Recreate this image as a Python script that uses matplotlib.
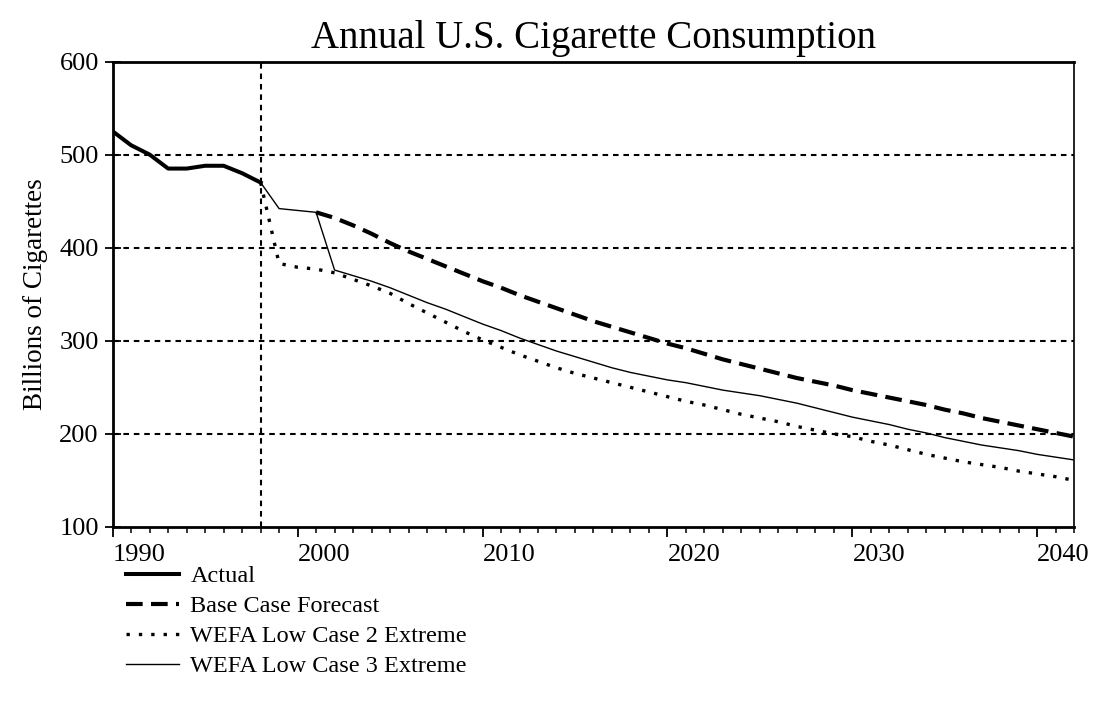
import matplotlib
matplotlib.use("Agg")
import matplotlib.pyplot as plt
from matplotlib.ticker import MultipleLocator

plt.rcParams["font.family"] = ["Liberation Serif", "DejaVu Serif"]
plt.rcParams["lines.scale_dashes"] = False

# Historical consumption, billions of cigarettes
actual_years = [1990, 1991, 1992, 1993, 1994, 1995, 1996, 1997, 1998]
actual_vals = [525, 510, 500, 485, 485, 488, 488, 480, 470]

# Base case forecast
base_years = list(range(2001, 2043))
base_vals = [438, 432, 424, 415, 405, 396, 388, 380, 372, 364,
             357, 349, 342, 335, 328, 321, 315, 309, 303, 297,
             292, 286, 280, 275, 270, 265, 260, 256, 252, 247,
             243, 239, 235, 231, 226, 222, 217, 213, 209, 205,
             201, 197]

# WEFA low case 2 (extreme)
low2_years = list(range(1998, 2043))
low2_vals = [470, 383, 379, 377, 373, 366, 359, 351, 340, 330,
             320, 310, 301, 293, 285, 278, 271, 265, 260, 255,
             250, 245, 240, 235, 231, 226, 221, 217, 213, 208,
             204, 200, 197, 192, 188, 183, 178, 174, 170, 167,
             164, 160, 157, 154, 150]

# WEFA low case 3 (extreme)
low3_years = list(range(1998, 2043))
low3_vals = [470, 442, 440, 438, 376, 370, 364, 357, 349, 341,
             334, 326, 318, 311, 303, 296, 289, 283, 277, 271,
             266, 262, 258, 255, 251, 247, 244, 241, 237, 233,
             228, 223, 218, 214, 210, 205, 201, 196, 192, 188,
             185, 182, 178, 175, 172]

forecast_start = 1998
x_ticks = [1990, 2000, 2010, 2020, 2030, 2040]
y_ticks = [100, 200, 300, 400, 500, 600]

fig = plt.figure(figsize=(10.96, 7.11), dpi=100)
ax = fig.add_axes([0.1028, 0.2588, 0.8774, 0.6547])

# reference grid
for yv in [200, 300, 400, 500]:
    ax.axhline(yv, color="black", lw=1.5, dashes=(4, 3.5), zorder=1)
ax.axvline(forecast_start, color="black", lw=1.5, dashes=(4, 3.5), zorder=1)

l_act, = ax.plot(actual_years, actual_vals, color="black", lw=2.9,
                 solid_joinstyle="round", zorder=4, label="Actual")
l_base, = ax.plot(base_years, base_vals, color="black", lw=3.0,
                  dashes=(12, 6), zorder=3, label="Base Case Forecast")
l_low2, = ax.plot(low2_years, low2_vals, color="black", lw=2.4,
                  dashes=(2.4, 6.5), zorder=3, label="WEFA Low Case 2 Extreme")
l_low3, = ax.plot(low3_years, low3_vals, color="black", lw=1.0,
                  zorder=3, label="WEFA Low Case 3 Extreme")

ax.set_xlim(1990, 2042)
ax.set_ylim(100, 600)
ax.set_xticks(x_ticks)
ax.set_yticks(y_ticks)
ax.xaxis.set_minor_locator(MultipleLocator(1))
ax.tick_params(axis="x", which="major", direction="out", length=7, width=1.3,
               labelsize=19, pad=5)
ax.tick_params(axis="x", which="minor", direction="out", length=4, width=1.1)
ax.tick_params(axis="y", which="major", direction="inout", length=12, width=1.3,
               labelsize=19, pad=4)
for lab in ax.get_xticklabels():
    lab.set_horizontalalignment("left")

for side in ["left", "bottom"]:
    ax.spines[side].set_linewidth(2.0)
ax.spines["top"].set_linewidth(2.0)
ax.spines["right"].set_linewidth(1.2)

ax.set_ylabel("Billions of Cigarettes", fontsize=19.5, labelpad=8)
ax.set_title("Annual U.S. Cigarette Consumption", fontsize=28, pad=10)

fig.legend(handles=[l_act, l_base, l_low2, l_low3],
           loc="upper left", bbox_to_anchor=(0.106, 0.219),
           frameon=False, fontsize=17.5, handlelength=2.2, handletextpad=0.45,
           labelspacing=0.33, borderaxespad=0)

fig.savefig("out.png", dpi=100)
